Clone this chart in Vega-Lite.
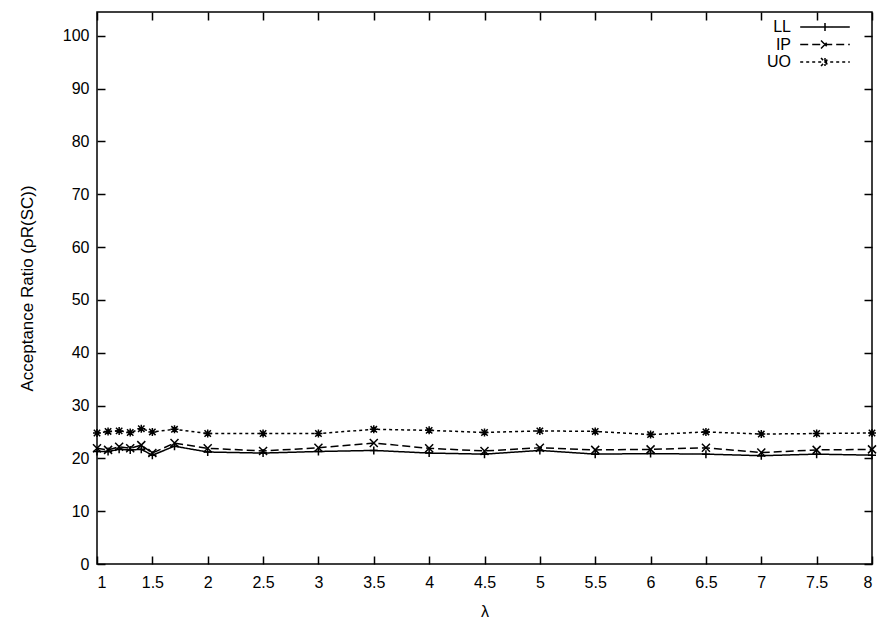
{
  "$schema": "https://vega.github.io/schema/vega-lite/v6.json",
  "width": 775,
  "height": 552,
  "autosize": "none",
  "padding": {"left": 97, "top": 12, "right": 10, "bottom": 57},
  "background": "white",
  "data": {
    "values": [
      {"series": "LL", "lambda": 1.0, "ratio": 21.3},
      {"series": "LL", "lambda": 1.1, "ratio": 21.3},
      {"series": "LL", "lambda": 1.2, "ratio": 21.7},
      {"series": "LL", "lambda": 1.3, "ratio": 21.6},
      {"series": "LL", "lambda": 1.4, "ratio": 21.7},
      {"series": "LL", "lambda": 1.5, "ratio": 20.6},
      {"series": "LL", "lambda": 1.7, "ratio": 22.3},
      {"series": "LL", "lambda": 2.0, "ratio": 21.2},
      {"series": "LL", "lambda": 2.5, "ratio": 21.0},
      {"series": "LL", "lambda": 3.0, "ratio": 21.3},
      {"series": "LL", "lambda": 3.5, "ratio": 21.5},
      {"series": "LL", "lambda": 4.0, "ratio": 21.0},
      {"series": "LL", "lambda": 4.5, "ratio": 20.8},
      {"series": "LL", "lambda": 5.0, "ratio": 21.5},
      {"series": "LL", "lambda": 5.5, "ratio": 20.8},
      {"series": "LL", "lambda": 6.0, "ratio": 20.9},
      {"series": "LL", "lambda": 6.5, "ratio": 20.8},
      {"series": "LL", "lambda": 7.0, "ratio": 20.5},
      {"series": "LL", "lambda": 7.5, "ratio": 20.8},
      {"series": "LL", "lambda": 8.0, "ratio": 20.6},
      {"series": "IP", "lambda": 1.0, "ratio": 21.9},
      {"series": "IP", "lambda": 1.1, "ratio": 21.6},
      {"series": "IP", "lambda": 1.2, "ratio": 22.2},
      {"series": "IP", "lambda": 1.3, "ratio": 21.9},
      {"series": "IP", "lambda": 1.4, "ratio": 22.5},
      {"series": "IP", "lambda": 1.5, "ratio": 21.0},
      {"series": "IP", "lambda": 1.7, "ratio": 22.9},
      {"series": "IP", "lambda": 2.0, "ratio": 21.9},
      {"series": "IP", "lambda": 2.5, "ratio": 21.4},
      {"series": "IP", "lambda": 3.0, "ratio": 22.0},
      {"series": "IP", "lambda": 3.5, "ratio": 22.9},
      {"series": "IP", "lambda": 4.0, "ratio": 21.9},
      {"series": "IP", "lambda": 4.5, "ratio": 21.4},
      {"series": "IP", "lambda": 5.0, "ratio": 22.0},
      {"series": "IP", "lambda": 5.5, "ratio": 21.6},
      {"series": "IP", "lambda": 6.0, "ratio": 21.7},
      {"series": "IP", "lambda": 6.5, "ratio": 22.0},
      {"series": "IP", "lambda": 7.0, "ratio": 21.1},
      {"series": "IP", "lambda": 7.5, "ratio": 21.6},
      {"series": "IP", "lambda": 8.0, "ratio": 21.7},
      {"series": "UO", "lambda": 1.0, "ratio": 24.8},
      {"series": "UO", "lambda": 1.1, "ratio": 25.1},
      {"series": "UO", "lambda": 1.2, "ratio": 25.2},
      {"series": "UO", "lambda": 1.3, "ratio": 24.9},
      {"series": "UO", "lambda": 1.4, "ratio": 25.6},
      {"series": "UO", "lambda": 1.5, "ratio": 25.0},
      {"series": "UO", "lambda": 1.7, "ratio": 25.5},
      {"series": "UO", "lambda": 2.0, "ratio": 24.7},
      {"series": "UO", "lambda": 2.5, "ratio": 24.7},
      {"series": "UO", "lambda": 3.0, "ratio": 24.7},
      {"series": "UO", "lambda": 3.5, "ratio": 25.5},
      {"series": "UO", "lambda": 4.0, "ratio": 25.3},
      {"series": "UO", "lambda": 4.5, "ratio": 24.9},
      {"series": "UO", "lambda": 5.0, "ratio": 25.2},
      {"series": "UO", "lambda": 5.5, "ratio": 25.1},
      {"series": "UO", "lambda": 6.0, "ratio": 24.5},
      {"series": "UO", "lambda": 6.5, "ratio": 25.0},
      {"series": "UO", "lambda": 7.0, "ratio": 24.6},
      {"series": "UO", "lambda": 7.5, "ratio": 24.7},
      {"series": "UO", "lambda": 8.0, "ratio": 24.8}
    ]
  },
  "layer": [
    {
      "mark": {"type": "line", "color": "black", "strokeWidth": 1.5},
      "encoding": {
        "x": {
          "field": "lambda", "type": "quantitative",
          "scale": {"domain": [1, 8], "nice": false, "zero": false},
          "axis": {
            "orient": "bottom", "title": "λ", "format": "~g",
            "values": [1, 1.5, 2, 2.5, 3, 3.5, 4, 4.5, 5, 5.5, 6, 6.5, 7, 7.5, 8],
            "labelPadding": 18, "titlePadding": 13, "titleFontSize": 16
          }
        },
        "y": {
          "field": "ratio", "type": "quantitative",
          "scale": {"domain": [0, 104.5], "nice": false},
          "axis": {
            "orient": "left", "title": "Acceptance Ratio (ρR(SC))",
            "values": [0, 10, 20, 30, 40, 50, 60, 70, 80, 90, 100],
            "labelPadding": 16, "titlePadding": 26, "titleFontSize": 17
          }
        },
        "strokeDash": {
          "field": "series", "type": "nominal",
          "scale": {"domain": ["LL", "IP", "UO"], "range": [[1, 0], [8, 4], [3, 3]]},
          "legend": {
            "title": null,
            "orient": "none",
            "legendX": 719,
            "legendY": 6,
            "padding": 0,
            "symbolSize": 256,
            "symbolStrokeColor": "black",
            "symbolStrokeWidth": 1.5,
            "labelAlign": "right",
            "labelOffset": -43,
            "labelFontSize": 16,
            "rowPadding": 0.5,
            "encode": {
              "symbols": {
                "update": {
                  "shape": {"signal": "datum.value === 'LL' ? 'M-3.1,0L3.1,0M0,-0.5L0,0.5' : datum.value === 'IP' ? 'M-3.1,0L3.1,0M-0.5,-0.5L0.5,0.5M-0.5,0.5L0.5,-0.5' : 'M-3.1,0L3.1,0M-0.5,-0.5L0.5,0.5M-0.5,0.5L0.5,-0.5M0,-0.5L0,0.5'"}
                }
              }
            }
          }
        }
      }
    },
    {
      "transform": [{"filter": "datum.series === 'LL'"}],
      "mark": {"type": "point", "filled": false, "stroke": "black", "strokeWidth": 1.5, "size": 64, "opacity": 1, "shape": "M-1,0L1,0M0,-1L0,1"},
      "encoding": {
        "x": {"field": "lambda", "type": "quantitative", "axis": null},
        "y": {"field": "ratio", "type": "quantitative", "axis": null}
      }
    },
    {
      "transform": [{"filter": "datum.series === 'IP'"}],
      "mark": {"type": "point", "filled": false, "stroke": "black", "strokeWidth": 1.5, "size": 64, "opacity": 1, "shape": "M-1,-1L1,1M-1,1L1,-1"},
      "encoding": {
        "x": {"field": "lambda", "type": "quantitative", "axis": null},
        "y": {"field": "ratio", "type": "quantitative", "axis": null}
      }
    },
    {
      "transform": [{"filter": "datum.series === 'UO'"}],
      "mark": {"type": "point", "filled": false, "stroke": "black", "strokeWidth": 1.5, "size": 64, "opacity": 1, "shape": "M-1,0L1,0M0,-1L0,1M-0.8,-0.8L0.8,0.8M-0.8,0.8L0.8,-0.8"},
      "encoding": {
        "x": {"field": "lambda", "type": "quantitative", "axis": null},
        "y": {"field": "ratio", "type": "quantitative", "axis": null}
      }
    },
    {
      "mark": {"type": "point", "opacity": 0},
      "encoding": {
        "x": {
          "field": "lambda", "type": "quantitative",
          "axis": {"orient": "top", "labels": false, "title": null,
                   "values": [1, 1.5, 2, 2.5, 3, 3.5, 4, 4.5, 5, 5.5, 6, 6.5, 7, 7.5, 8]}
        },
        "y": {
          "field": "ratio", "type": "quantitative",
          "axis": {"orient": "right", "labels": false, "title": null,
                   "values": [0, 10, 20, 30, 40, 50, 60, 70, 80, 90, 100]}
        }
      }
    }
  ],
  "resolve": {"axis": {"x": "independent", "y": "independent"}},
  "config": {
    "font": "Liberation Sans",
    "view": {"stroke": "black", "strokeWidth": 1.5},
    "axis": {
      "domain": false,
      "grid": false,
      "ticks": true,
      "tickSize": -8,
      "tickColor": "black",
      "tickWidth": 1.5,
      "labelFont": "Liberation Sans",
      "labelFontSize": 16,
      "labelColor": "black",
      "titleFont": "Liberation Sans",
      "titleFontSize": 15,
      "titleFontWeight": "normal",
      "titleColor": "black"
    },
    "legend": {
      "labelFont": "Liberation Sans",
      "labelColor": "black"
    }
  }
}
